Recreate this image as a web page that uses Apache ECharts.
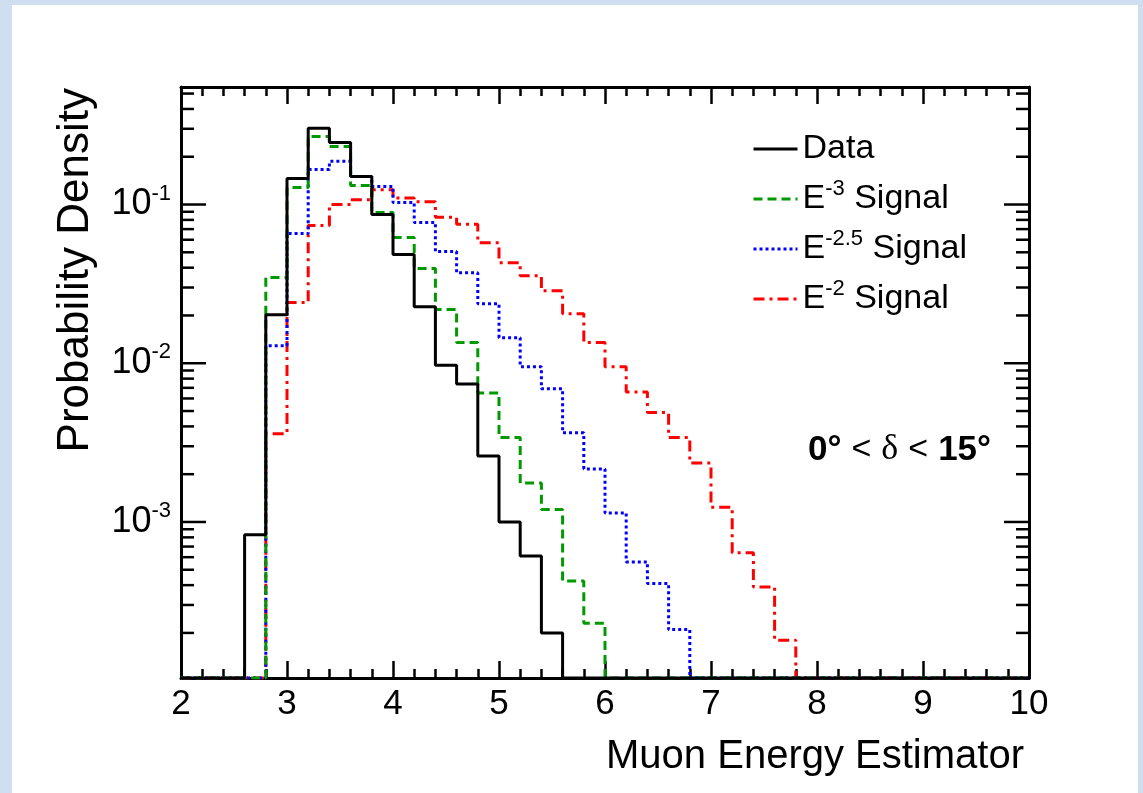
<!DOCTYPE html>
<html><head><meta charset="utf-8">
<script src="https://cdn.jsdelivr.net/npm/echarts@6/dist/echarts.min.js"></script>
<style>
html,body{margin:0;padding:0;background:#cfdef0;width:1143px;height:793px;overflow:hidden}
#c{position:absolute;left:12px;top:5px;width:1126px;height:788px;background:#fff}
</style></head><body><div id="c"></div>
<script>
// ---- data ----
const BIN_EDGES = [2.0,2.2,2.4,2.6,2.8,3.0,3.2,3.4,3.6,3.8,4.0,4.2,4.4,4.6,4.8,5.0,5.2,5.4,5.6,5.8,
                   6.0,6.2,6.4,6.6,6.8,7.0,7.2,7.4,7.6,7.8,8.0,8.2,8.4,8.6,8.8,9.0,9.2,9.4,9.6,9.8,10.0];
const DATA = [0,0,0,8.3e-4,0.0202,0.146,0.302,0.246,0.150,0.0865,0.0484,0.0227,0.0097,0.0074,0.0026,0.0010,0.00061,0.0002,0,0,
              0,0,0,0,0,0,0,0,0,0,0,0,0,0,0,0,0,0,0,0];
const SIG_E3 = [0,0,0,0,0.0347,0.128,0.268,0.232,0.132,0.089,0.062,0.0395,0.0218,0.0135,0.0065,0.0034,0.00176,0.0012,0.000425,0.00023,
                0,0,0,0,0,0,0,0,0,0,0,0,0,0,0,0,0,0,0,0];
const SIG_E25 = [0,0,0,0,0.0129,0.0656,0.166,0.187,0.150,0.130,0.103,0.077,0.0505,0.0372,0.0237,0.0145,0.0095,0.0069,0.00365,0.00216,
                 0.00114,0.00056,0.00041,0.00021,0,0,0,0,0,0,0,0,0,0,0,0,0,0,0,0];
const SIG_E2 = [0,0,0,0,0.0036,0.0241,0.0738,0.100,0.107,0.124,0.110,0.104,0.083,0.075,0.0575,0.043,0.0356,0.0286,0.0205,0.0135,
                0.0095,0.0066,0.0049,0.0034,0.00235,0.00124,0.00064,0.00039,0.00018,0,0,0,0,0,0,0,0,0,0,0];
const SERIES_NAMES = ['Data','E^-3 Signal','E^-2.5 Signal','E^-2 Signal'];
const X_MIN = 2, X_MAX = 10, X_TICK = 1;
const Y_MIN = 1.04e-4, Y_MAX = 0.55;
const Y_MAJOR_TICKS = [1e-3,1e-2,1e-1];
const Y_MINOR_TICKS = [2e-4,3e-4,4e-4,5e-4,6e-4,7e-4,8e-4,9e-4,
                       2e-3,3e-3,4e-3,5e-3,6e-3,7e-3,8e-3,9e-3,
                       2e-2,3e-2,4e-2,5e-2,6e-2,7e-2,8e-2,9e-2,
                       0.2,0.3,0.4,0.5];
const X_TITLE = 'Muon Energy Estimator';
const Y_TITLE = 'Probability Density';

// ---- build ----
const FONT = "'Liberation Sans', Arial, Helvetica, sans-serif";
function hist(vals){
  const pts = vals.map((v,i)=>[BIN_EDGES[i], v > 0 ? v : Y_MIN]);
  pts.push([BIN_EDGES[BIN_EDGES.length-1], vals[vals.length-1] > 0 ? vals[vals.length-1] : Y_MIN]);
  return pts;
}
function sup(name){
  const m = name.match(/^E\^(\S+) (.*)$/);
  if (!m) return '{b|' + name + '}';
  return '{b|E}{s|' + m[1] + '}{b| ' + m[2] + '}';
}
const yTickData = Y_MAJOR_TICKS.map(v=>[X_MIN, v, 1]).concat(Y_MINOR_TICKS.map(v=>[X_MIN, v, 0]));

const styles = [
  {color:'#000000', type:'solid'},
  {color:'#009900', type:[9,5]},
  {color:'#0000ff', type:[3,3]},
  {color:'#ff0000', type:[11,5,3,5]}
];
const vals = [DATA, SIG_E3, SIG_E25, SIG_E2];

const series = vals.map((v,i)=>({
  name: SERIES_NAMES[i], type:'line', step:'end', symbol:'none', showSymbol:false,
  data: hist(v), z: 10 - i,
  lineStyle:{color:styles[i].color, width:3, type:styles[i].type},
  itemStyle:{color:styles[i].color}
}));
series.push({
  type:'custom', silent:true, z:3, clip:false,
  data: yTickData, encode:{x:0, y:1},
  renderItem(params, api){
    const v = api.value(1), major = api.value(2);
    const pl = api.coord([X_MIN, v]), pr = api.coord([X_MAX, v]);
    const len = major ? 25 : 13;
    return {type:'group', children:[
      {type:'line', shape:{x1:pl[0], y1:pl[1], x2:pl[0]+len, y2:pl[1]}, style:{stroke:'#000', lineWidth:2.5}},
      {type:'line', shape:{x1:pr[0], y1:pr[1], x2:pr[0]-len, y2:pr[1]}, style:{stroke:'#000', lineWidth:2.5}}
    ]};
  }
});

const xCommon = {
  type:'value', min:X_MIN, max:X_MAX, interval:X_TICK,
  axisLine:{show:true, onZero:false, lineStyle:{color:'#000', width:3}},
  axisTick:{show:true, inside:true, length:17, lineStyle:{color:'#000', width:2.5}},
  minorTick:{show:true, splitNumber:5, length:9, lineStyle:{color:'#000', width:2.5}},
  splitLine:{show:false}
};
const yCommon = {
  type:'log', logBase:10, min:Y_MIN, max:Y_MAX,
  axisLine:{show:true, lineStyle:{color:'#000', width:3}},
  axisTick:{show:false}, minorTick:{show:false}, splitLine:{show:false}
};

const chart = echarts.init(document.getElementById('c'));
chart.setOption({
  animation:false,
  backgroundColor:'#ffffff',
  textStyle:{fontFamily:FONT},
  grid:{left:169, right:109, top:82, bottom:115, containLabel:false},
  xAxis:[
    Object.assign({}, xCommon, {position:'bottom',
      axisLabel:{show:true, color:'#000', fontSize:35, fontFamily:FONT, margin:9}}),
    Object.assign({}, xCommon, {position:'top', axisLabel:{show:false}})
  ],
  yAxis:[
    Object.assign({}, yCommon, {position:'left',
      axisLabel:{show:true, margin:10, showMinLabel:false, showMaxLabel:false,
        formatter(v){
          const l = Math.log10(v);
          if (Math.abs(l - Math.round(l)) > 1e-6 || Math.round(l) <= -4) return '';
          return '{b|10}{s|' + Math.round(l) + '}';
        },
        rich:{b:{fontSize:36, fontFamily:FONT, color:'#000', lineHeight:44},
              s:{fontSize:22, fontFamily:FONT, color:'#000', verticalAlign:'top', lineHeight:22}}}}),
    Object.assign({}, yCommon, {position:'right', axisLabel:{show:false}})
  ],
  legend:{
    data: SERIES_NAMES, orient:'vertical', left:740, top:127, padding:0,
    itemWidth:44, itemHeight:20, itemGap:12,
    formatter: sup,
    lineStyle:{width:3},
    itemStyle:{opacity:0},
    textStyle:{color:'#000', rich:{
      b:{fontSize:34, fontFamily:FONT, color:'#000', lineHeight:42},
      s:{fontSize:22, fontFamily:FONT, color:'#000', verticalAlign:'top', lineHeight:22}}}
  },
  graphic:[
    {type:'text', x:1012, y:752, style:{text:X_TITLE, font:'40px ' + FONT, fill:'#000', textAlign:'right', textVerticalAlign:'middle'}},
    {type:'text', x:64, y:83, rotation:Math.PI/2, style:{text:Y_TITLE, font:'44px ' + FONT, fill:'#000', textAlign:'right', textVerticalAlign:'middle'}},
    {type:'text', x:796, y:445, style:{
      text:'{bb|0°}{n|<}{d|δ}{n|<}{bb|15°}', textVerticalAlign:'middle', textAlign:'left',
      rich:{bb:{fontSize:35, fontWeight:'bold', fontFamily:FONT, fill:'#000'},
            n:{fontSize:34, fontFamily:FONT, fill:'#000', padding:[0,10,0,10]},
            d:{fontSize:36, fontFamily:"'Liberation Serif', 'DejaVu Serif', serif", fill:'#000'}}}}
  ],
  series: series
});
</script></body></html>
